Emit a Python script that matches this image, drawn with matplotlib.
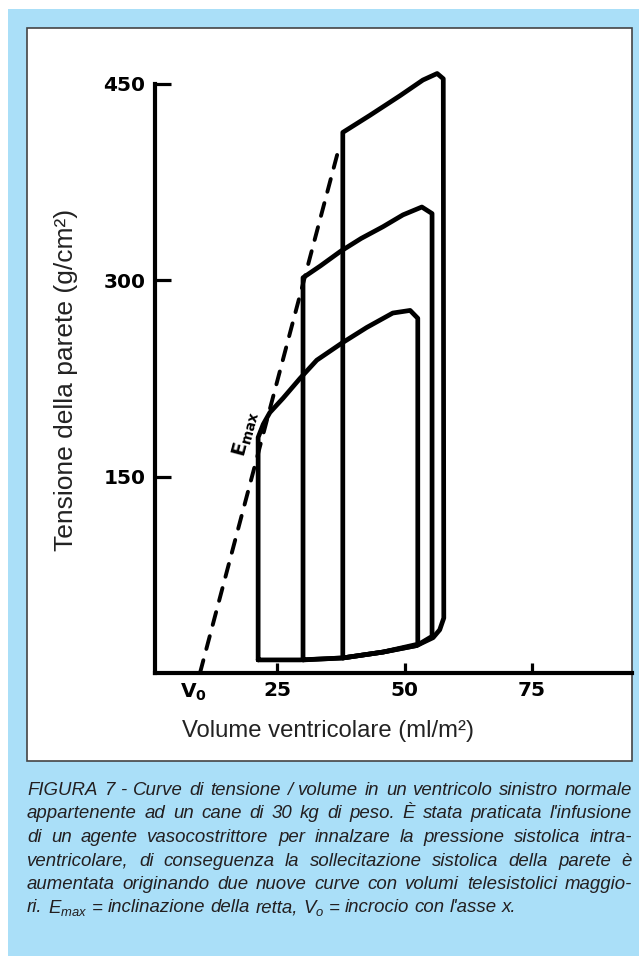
import matplotlib
matplotlib.use('Agg')
import matplotlib.pyplot as plt
from matplotlib.patches import Rectangle

## Data: volume (ml/m2) and wall tension (g/cm2)
# control loop
loop1_vol = [21.3, 21.3, 22.3, 23.6, 26.2, 29.5, 32.8, 37.7, 42.6, 47.7, 51.1, 52.6, 52.6, 45.8, 37.9, 29.5, 21.3]
loop1_ten = [10, 180, 190, 199, 210, 225, 239, 252, 264, 275, 277, 271, 22, 16, 11.5, 10, 10]
# vasoconstrictor, first step
loop2_vol = [30.1, 30.1, 33.5, 37.4, 41.5, 45.8, 49.7, 53.4, 55.4, 55.4, 52.4, 45.8, 37.9, 30.1]
loop2_ten = [10, 302, 311, 322, 332, 341, 350, 356, 351, 28, 21, 16, 11.5, 10]
# vasoconstrictor, second step
loop3_vol = [37.9, 37.9, 43.2, 49.1, 53.6, 56.4, 57.6, 57.7, 56.9, 55.6, 52.4, 45.8, 37.9]
loop3_ten = [11.5, 413, 426, 441, 453, 458, 454, 42, 33, 27, 21, 16, 11.5]
# Emax line (end-systolic pressure-volume relation)
emax_vol = [9.9, 36.8]
emax_ten = [0, 396]
v0 = 8.7

xticks = [25, 50, 75]
yticks = [150, 300, 450]

caption_lines = [
    "FIGURA 7 - Curve di tensione / volume in un ventricolo sinistro normale",
    "appartenente ad un cane di 30 kg di peso. È stata praticata l'infusione",
    "di un agente vasocostrittore per innalzare la pressione sistolica intra-",
    "ventricolare, di conseguenza la sollecitazione sistolica della parete è",
    "aumentata originando due nuove curve con volumi telesistolici maggio-",
    r"ri. $E_{max}$ = inclinazione della retta, $V_o$ = incrocio con l'asse x.",
]

sans = 'Liberation Sans'
plt.rcParams['mathtext.fontset'] = 'custom'
plt.rcParams['mathtext.it'] = sans + ':italic'
plt.rcParams['mathtext.rm'] = sans
plt.rcParams['mathtext.bf'] = 'DejaVu Sans:bold'

W, H = 639, 956
fig = plt.figure(figsize=(W / 100, H / 100), dpi=100)
fig.patch.set_facecolor('white')

def fx(px):
    return px / W

def fy(py):
    return (H - py) / H

# light blue frame and white panel
fig.patches.append(Rectangle((fx(8), 0), fx(W - 8), fy(9), transform=fig.transFigure,
                             facecolor='#aadff8', edgecolor='none', zorder=-3))
fig.patches.append(Rectangle((fx(27), fy(761)), fx(605), 733 / H, transform=fig.transFigure,
                             facecolor='white', edgecolor='#444444', lw=1.2, zorder=-2))

ax = fig.add_axes([fx(155), fy(673), fx(477), (673 - 57.8) / H])
ax.set_zorder(2)
ax.set_facecolor('none')
ax.set_xlim(1.08, 94.6)
ax.set_ylim(0, 470)

for vol, ten in [(loop1_vol, loop1_ten), (loop2_vol, loop2_ten), (loop3_vol, loop3_ten)]:
    ax.plot(vol, ten, color='black', lw=3.4, solid_joinstyle='round', solid_capstyle='round')
ax.plot(emax_vol, emax_ten, color='black', lw=2.8, ls=(0, (3.4, 3.0)), dash_capstyle='round')

ax.text(18.7, 183, r'$\mathbf{E}_{\mathbf{max}}$', rotation=75, fontsize=14,
        ha='center', va='center')

for s in ['top', 'right']:
    ax.spines[s].set_visible(False)
ax.spines['left'].set_bounds(0, 450)
ax.spines['left'].set_linewidth(3)
ax.spines['bottom'].set_linewidth(3)

ax.set_yticks(yticks)
ax.set_yticklabels([str(t) for t in yticks], fontweight='bold', fontsize=14.5, family='DejaVu Sans')
ax.set_xticks(xticks)
ax.set_xticklabels([str(t) for t in xticks], fontweight='bold', fontsize=14.5, family='DejaVu Sans')
ax.set_xticks([v0], minor=True)
ax.set_xticklabels([r'$\mathbf{V}_{\mathbf{0}}$'], minor=True, fontsize=14.5)
ax.tick_params(axis='y', direction='in', length=11.5, width=2.3, pad=7)
ax.tick_params(axis='x', which='major', direction='in', length=7, width=2.3, pad=6)
ax.tick_params(axis='x', which='minor', length=0, pad=6)

fig.text(fx(66), fy(380), 'Tensione della parete (g/cm²)', rotation=90, ha='center', va='center',
         fontsize=19, family=sans, color='#222222')
fig.text(fx(328), fy(731), 'Volume ventricolare (ml/m²)', ha='center', va='center',
         fontsize=17.2, family=sans, color='#222222')

# justified italic caption
renderer = fig.canvas.get_renderer()
cap_kw = dict(fontsize=13.4, family=sans, style='italic', color='#231f20', va='baseline', ha='left')
probe1 = fig.text(0, 0, 'x x', **cap_kw)
probe2 = fig.text(0, 0, 'xx', **cap_kw)
space = probe1.get_window_extent(renderer).width - probe2.get_window_extent(renderer).width
probe1.remove()
probe2.remove()

x_left, x_right = 27, 632
base = 795
for i, line in enumerate(caption_lines):
    words = line.split(' ')
    texts = [fig.text(0, fy(base + i * 23.5), w, **cap_kw) for w in words]
    widths = [t.get_window_extent(renderer).width for t in texts]
    last = i == len(caption_lines) - 1
    gap = space if last else (x_right - x_left - sum(widths)) / (len(words) - 1)
    x = x_left
    for t, w in zip(texts, widths):
        t.set_x(fx(x))
        x += w + gap

fig.savefig('out.png', dpi=100)
